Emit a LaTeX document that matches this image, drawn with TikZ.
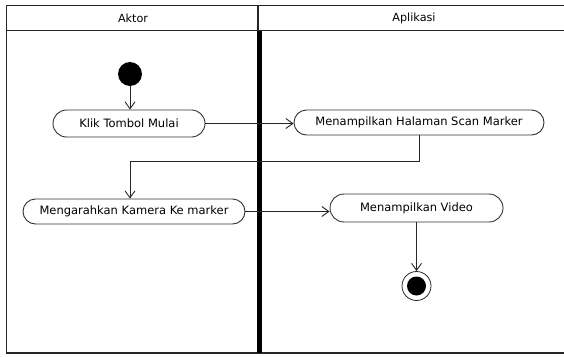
\documentclass[tikz,border=0pt]{standalone}
\usepackage{fontspec}
\setmainfont{DejaVu Sans}
\usetikzlibrary{arrows.meta,shapes.misc}

\tikzset{
  frameline/.style={line width=1.8pt, draw=black!85},
  lanedivider/.style={line width=5pt, draw=black},
  activity/.style={rounded rectangle, draw=black!80, line width=0.9pt,
    inner sep=0pt, font=\fontsize{11.5}{13}\selectfont, text=black},
  lanelabel/.style={font=\fontsize{11.2}{13}\selectfont, text=black},
  flow/.style={draw=black!85, line width=0.9pt,
    -{Straight Barb[length=7pt,width=10pt,line width=0.9pt]}},
  startstate/.style={circle, fill=black, inner sep=0pt, minimum size=24pt},
  endstate/.style={circle, draw=black!85, line width=0.8pt, inner sep=0pt,
    minimum size=29pt,
    path picture={\fill[black] (path picture bounding box.center) circle (9.5pt);}}
}

\begin{document}
\begin{tikzpicture}[x=1pt,y=-1pt]
  \useasboundingbox (0,0) rectangle (564,356);
  \fill[white] (0,0) rectangle (564,356);

  % swimlane frame
  \draw[frameline] (564,5.5) -- (6.5,5.5) -- (6.5,353) -- (564,353);
  \draw[frameline] (6.5,30.5) -- (564,30.5);
  \draw[frameline] (258,5.5) -- (258,30.5);
  \draw[lanedivider] (259.5,30.5) -- (259.5,353);

  \node[lanelabel] (lanea) at (133,18) {Aktor};
  \node[lanelabel] (laneb) at (414,18) {Aplikasi};

  % activities
  \node[startstate] (start) at (130,74) {};
  \node[activity, minimum width=152pt, minimum height=27pt] (klik) at (129,123.5) {Klik Tombol Mulai};
  \node[activity, minimum width=250pt, minimum height=25pt] (hal) at (419,122.5) {Menampilkan Halaman Scan Marker};
  \node[activity, minimum width=222pt, minimum height=25pt] (arah) at (134,211.5) {Mengarahkan Kamera Ke marker};
  \node[activity, minimum width=173pt, minimum height=28pt] (vid) at (416.5,208) {Menampilkan Video};
  \node[endstate] (fin) at (416.5,286) {};

  % control flow
  \coordinate (bend) at (130,161);
  \draw[flow] (start) -- (start |- klik.north);
  \draw[flow] (klik.east) -- (klik.east -| hal.west);
  \draw[flow] (hal.south) |- (bend) -- (bend |- arah.north);
  \draw[flow] (arah.east) -- (arah.east -| vid.west);
  \draw[flow] (vid.south) -- (fin.north);
\end{tikzpicture}
\end{document}
